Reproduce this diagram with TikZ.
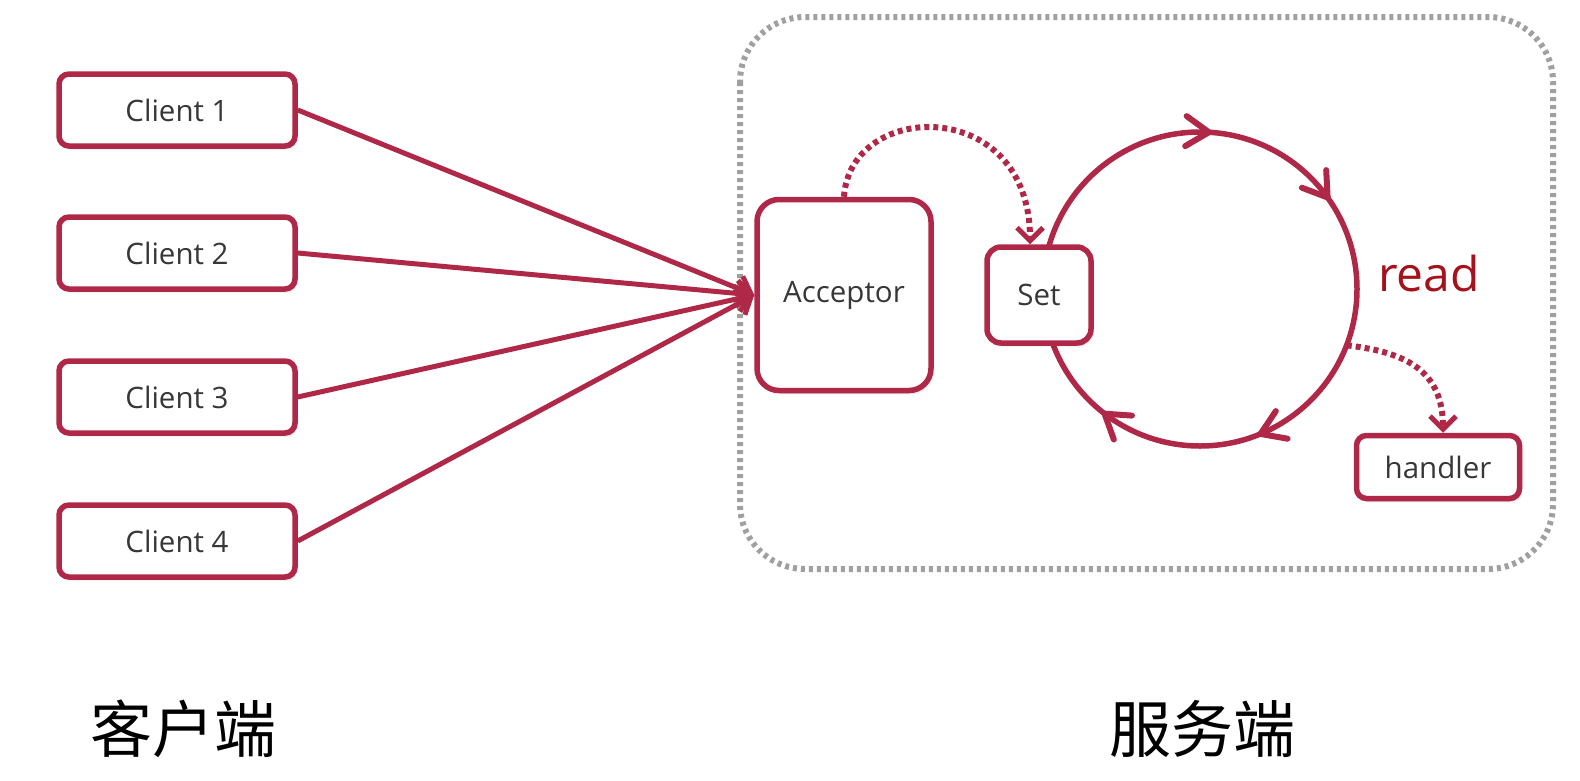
\documentclass[tikz,border=0pt]{standalone}
\usepackage{fontspec}
\setmainfont{Open Sans}
\newfontfamily\cjk{Noto Sans CJK SC}
\usetikzlibrary{arrows.meta,calc,decorations.markings,shadows.blur}
\definecolor{crimson}{RGB}{176,40,72}
\definecolor{readred}{RGB}{165,18,28}
\definecolor{boxtext}{RGB}{55,55,55}
\definecolor{framegray}{RGB}{160,160,160}

\begin{document}
\begin{tikzpicture}[
x=1pt, y=-1pt,
box/.style={draw=crimson, line width=5.5pt, fill=white, rounded corners=10pt,
  text=boxtext, font=\fontsize{29.5}{34}\selectfont,
  blur shadow={shadow xshift=1.5pt, shadow yshift=-2.5pt, shadow opacity=22, shadow blur steps=6}},
clientbox/.style={box, minimum width=236pt, minimum height=72pt},
feed/.style={crimson, line width=5pt, -{Straight Barb[length=14pt, width=26pt, line width=5pt]}},
hop/.style={crimson, line width=6pt, dash pattern=on 5pt off 4pt,
  -{Straight Barb[length=13pt, width=26pt, line width=5pt]}},
chevron/.style={draw=crimson, line width=6pt, line cap=round, line join=miter},
ring/.style={crimson, line width=5.5pt, postaction={decorate},
  decoration={markings,
    mark=at position 0.186 with {\draw[chevron] (-22pt,15pt) -- (1pt,0pt) -- (-22pt,-15pt);},
    mark=at position 0.353 with {\draw[chevron] (-22pt,15pt) -- (1pt,0pt) -- (-22pt,-15pt);},
    mark=at position 0.758 with {\draw[chevron] (-22pt,15pt) -- (1pt,0pt) -- (-22pt,-15pt);},
    mark=at position 0.900 with {\draw[chevron] (-22pt,15pt) -- (1pt,0pt) -- (-22pt,-15pt);}}},
]
\useasboundingbox (0,0) rectangle (1580,780);

% server frame
\draw[framegray, line width=6pt, dash pattern=on 4pt off 4pt, rounded corners=65pt]
  (740,17) rectangle (1553,569);

% event loop
\node[circle, minimum size=314pt, inner sep=0pt] (loop) at (1200,289) {};
\draw[ring] (loop.center) circle (157);

% clients
\node[clientbox] (client1) at (177,110) {Client 1};
\node[clientbox] (client2) at (177,253) {Client 2};
\node[clientbox] (client3) at (177,397) {Client 3};
\node[clientbox] (client4) at (177,541) {Client 4};

% server side
\node[box, rounded corners=22pt, minimum width=174pt, minimum height=191pt] (acceptor) at (844,295) {Acceptor};
\node[box, rounded corners=14pt, minimum width=104pt, minimum height=96pt] (set) at (1039,295) {Set};
\node[box, minimum width=163pt, minimum height=63pt] (handler) at (1438,467) {handler};
\node[text=readred, font=\fontsize{48}{54}\selectfont] (read) at (1429,273) {read};

\draw[feed] (client1.east) -- (acceptor.west);
\draw[feed] (client2.east) -- (acceptor.west);
\draw[feed] (client3.east) -- (acceptor.west);
\draw[feed] (client4.east) -- (acceptor.west);

\draw[hop] (acceptor.north) .. controls (850,100) and (1030,95) .. ($(set.north)+(-9,0)$);
\draw[hop] (loop.-21) .. controls (1405,352) and (1443,370) .. ($(handler.north)+(5,0)$);

% labels
\node[font=\cjk\fontsize{62}{68}\selectfont] (clientside) at (183,729) {客户端};
\node[font=\cjk\fontsize{62}{68}\selectfont] (serverside) at (1202,729) {服务端};
\end{tikzpicture}
\end{document}
